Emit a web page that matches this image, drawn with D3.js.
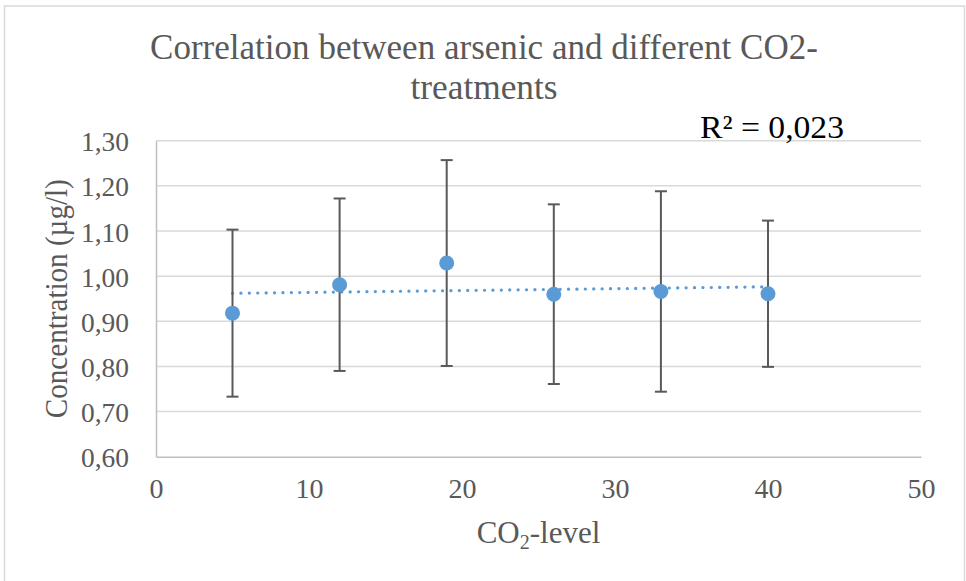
<!DOCTYPE html>
<html>
<head>
<meta charset="utf-8">
<script src="https://cdn.jsdelivr.net/npm/d3@7"></script>
<style>
  html, body { margin: 0; padding: 0; background: #ffffff; }
  svg { display: block; }
  text { font-family: "Liberation Serif", "Times New Roman", serif; fill: #595959; }
</style>
</head>
<body>
<svg id="chart" width="966" height="581"></svg>
<script>
// ---- data ----
const co2Levels = [5, 12, 19, 26, 33, 40];
const concentrations = [0.918, 0.981, 1.029, 0.960, 0.966, 0.961];
const errorAmounts = [0.185, 0.191, 0.228, 0.199, 0.222, 0.162];
const xTickValues = [0, 10, 20, 30, 40, 50];
const yTickValues = [0.6, 0.7, 0.8, 0.9, 1.0, 1.1, 1.2, 1.3];
const titleLines = ["Correlation between arsenic and different CO2-", "treatments"];
const yAxisTitle = "Concentration (µg/l)";
const rSquaredLabel = "R² = 0,023";

// ---- layout ----
const W = 966, H = 581;
const plot = { left: 156, right: 921, top: 140.7, bottom: 456.7 };

const svg = d3.select("#chart");

// outer chart border
svg.append("rect")
  .attr("x", 4.5).attr("y", 6)
  .attr("width", 960).attr("height", 620)
  .attr("fill", "none").attr("stroke", "#d9d9d9").attr("stroke-width", 1.5);

const x = d3.scaleLinear().domain([0, 50]).range([plot.left, plot.right]);
const y = d3.scaleLinear().domain([0.6, 1.3]).range([plot.bottom, plot.top]);

const locale = d3.formatLocale({ decimal: ",", thousands: ".", grouping: [3], currency: ["", ""] });
const fmtY = locale.format(".2f");

// gridlines
svg.append("g")
  .selectAll("line")
  .data(yTickValues.filter(v => v > 0.6))
  .join("line")
  .attr("x1", plot.left).attr("x2", plot.right)
  .attr("y1", d => y(d)).attr("y2", d => y(d))
  .attr("stroke", "#d9d9d9").attr("stroke-width", 1.5);

// y axis
const yAxis = svg.append("g")
  .attr("transform", `translate(${plot.left},0)`)
  .call(d3.axisLeft(y).tickValues(yTickValues).tickFormat(fmtY).tickSize(0).tickPadding(27));
yAxis.select(".domain").attr("stroke", "#bfbfbf").attr("stroke-width", 1.5);
yAxis.selectAll("text")
  .attr("font-size", 28)
  .attr("fill", "#595959")
  .style("font-family", "'Liberation Serif', 'Times New Roman', serif")
  .attr("textLength", 48).attr("lengthAdjust", "spacingAndGlyphs")
  .attr("dy", "0.36em");

// x axis
const xAxis = svg.append("g")
  .attr("transform", `translate(0,${plot.bottom})`)
  .call(d3.axisBottom(x).tickValues(xTickValues).tickFormat(d3.format("d")).tickSize(0).tickPadding(27));
xAxis.select(".domain").attr("stroke", "#bfbfbf").attr("stroke-width", 1.5);
xAxis.selectAll("text")
  .attr("font-size", 28)
  .attr("fill", "#595959")
  .style("font-family", "'Liberation Serif', 'Times New Roman', serif")
  .attr("dy", "0.5em");

// trendline (least squares)
const n = co2Levels.length;
const mx = d3.mean(co2Levels), my = d3.mean(concentrations);
let sxy = 0, sxx = 0;
for (let i = 0; i < n; i++) { sxy += (co2Levels[i] - mx) * (concentrations[i] - my); sxx += (co2Levels[i] - mx) ** 2; }
const slope = sxy / sxx, intercept = my - slope * mx;
const trendX = d3.extent(co2Levels);
svg.append("line")
  .attr("x1", x(trendX[0])).attr("y1", y(intercept + slope * trendX[0]))
  .attr("x2", x(trendX[1])).attr("y2", y(intercept + slope * trendX[1]))
  .attr("stroke", "#5b9bd5").attr("stroke-width", 3.2)
  .attr("stroke-linecap", "round").attr("stroke-dasharray", "0.1 8.3");

// error bars
const points = co2Levels.map((v, i) => ({ x: v, y: concentrations[i], e: errorAmounts[i] }));
const eb = svg.append("g").attr("stroke", "#595959").attr("stroke-width", 2);
eb.selectAll("line.v").data(points).join("line").attr("class", "v")
  .attr("x1", d => x(d.x)).attr("x2", d => x(d.x))
  .attr("y1", d => y(d.y + d.e)).attr("y2", d => y(d.y - d.e));
eb.selectAll("line.t").data(points).join("line").attr("class", "t")
  .attr("x1", d => x(d.x) - 6).attr("x2", d => x(d.x) + 6)
  .attr("y1", d => y(d.y + d.e)).attr("y2", d => y(d.y + d.e));
eb.selectAll("line.b").data(points).join("line").attr("class", "b")
  .attr("x1", d => x(d.x) - 6).attr("x2", d => x(d.x) + 6)
  .attr("y1", d => y(d.y - d.e)).attr("y2", d => y(d.y - d.e));

// markers
svg.append("g").selectAll("circle").data(points).join("circle")
  .attr("cx", d => x(d.x)).attr("cy", d => y(d.y)).attr("r", 7.5)
  .attr("fill", "#5b9bd5");

// title
svg.append("text").attr("x", 484).attr("y", 59)
  .attr("text-anchor", "middle").attr("font-size", 35)
  .attr("textLength", 668).attr("lengthAdjust", "spacingAndGlyphs")
  .text(titleLines[0]);
svg.append("text").attr("x", 484).attr("y", 99)
  .attr("text-anchor", "middle").attr("font-size", 35)
  .attr("textLength", 147).attr("lengthAdjust", "spacingAndGlyphs")
  .text(titleLines[1]);

// R squared label
svg.append("text").attr("x", 700).attr("y", 138)
  .attr("font-size", 32)
  .attr("textLength", 144).attr("lengthAdjust", "spacingAndGlyphs")
  .attr("fill", "#000000").style("fill", "#000000")
  .text(rSquaredLabel);

// y axis title
svg.append("text")
  .attr("transform", `translate(67,${(plot.top + plot.bottom) / 2}) rotate(-90)`)
  .attr("text-anchor", "middle").attr("font-size", 31)
  .attr("textLength", 239).attr("lengthAdjust", "spacingAndGlyphs")
  .text(yAxisTitle);

// x axis title with subscript
const xt = svg.append("text")
  .attr("x", (plot.left + plot.right) / 2).attr("y", 543)
  .attr("text-anchor", "middle").attr("font-size", 31);
xt.append("tspan").text("CO");
xt.append("tspan").attr("font-size", 20).attr("dy", 6).text("2");
xt.append("tspan").attr("dy", -6).text("-level");
</script>
</body>
</html>
